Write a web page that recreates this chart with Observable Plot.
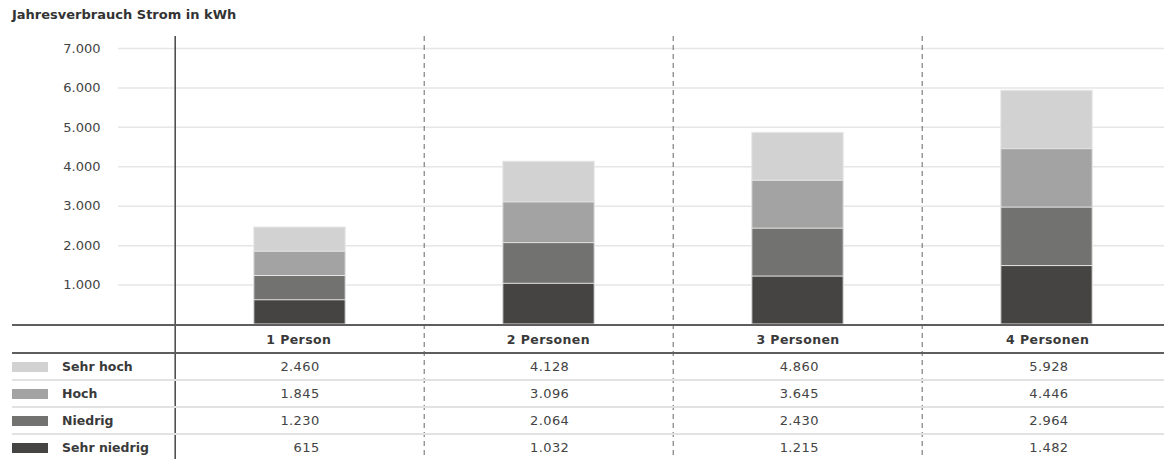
<!DOCTYPE html>
<html>
<head>
<meta charset="utf-8">
<script src="https://cdn.jsdelivr.net/npm/d3@7"></script>
<script src="https://cdn.jsdelivr.net/npm/@observablehq/plot@0.6"></script>
<style>
  html, body { margin: 0; padding: 0; background: #fff; }
  body { width: 1164px; height: 459px; overflow: hidden; position: relative; font-family: "DejaVu Sans", sans-serif; color: #444; }
  #title { position: absolute; left: 12px; top: 6px; font-size: 13px; line-height: 18px; font-weight: bold; color: #333; }
  #chart { position: absolute; left: 0; top: 0; }
  #tbl { position: absolute; left: 12px; top: 324px; }
  .row { display: flex; align-items: center; box-sizing: border-box; height: 27px; border-bottom: 2px solid #e2e2e2; }
  .row.head { height: 30px; border-top: 2px solid #5e5e5e; border-bottom: 2px solid #5e5e5e; }
  .lab { display: flex; align-items: center; box-sizing: border-box; font-weight: bold; font-size: 12.5px; color: #3a3a3a; }
  .sw { width: 36px; height: 10px; margin-right: 14px; }
  .cell { box-sizing: border-box; font-size: 13px; letter-spacing: 0.4px; }
  .head .cell { text-align: center; font-weight: bold; font-size: 12.5px; letter-spacing: 0.4px; color: #3a3a3a; }
  .num { text-align: right; padding-right: 104px; }
</style>
</head>
<body>
<div id="title">Jahresverbrauch Strom in kWh</div>
<div id="chart"></div>
<div id="tbl"></div>
<script>
const persons = ["1 Person", "2 Personen", "3 Personen", "4 Personen"];
const levels = ["Sehr hoch", "Hoch", "Niedrig", "Sehr niedrig"];
const sehrHoch = [2460, 4128, 4860, 5928];
const hoch = [1845, 3096, 3645, 4446];
const niedrig = [1230, 2064, 2430, 2964];
const sehrNiedrig = [615, 1032, 1215, 1482];
const levelColors = ["#d2d2d2", "#a2a3a2", "#727271", "#454443"];
const yTicks = [1000, 2000, 3000, 4000, 5000, 6000, 7000];

const series = [sehrHoch, hoch, niedrig, sehrNiedrig];
const data = levels.flatMap((level, i) => persons.map((person, j) => ({person, level, value: series[i][j]})));

const de = d3.formatLocale({decimal: ",", thousands: ".", grouping: [3], currency: ["", " €"]});
const fmt = de.format(",");

const xRange = [174, 1172.5];
const step = (xRange[1] - xRange[0]) / persons.length;
const barWidth = 92;
const inset = (step - barWidth) / 2;

const chart = Plot.plot({
  width: 1164,
  height: 459,
  marginLeft: 118,
  marginRight: 0,
  marginTop: 36,
  marginBottom: 0,
  style: {fontFamily: "DejaVu Sans, sans-serif", background: "transparent", overflow: "visible"},
  x: {domain: persons, range: xRange, padding: 0, axis: null},
  y: {domain: [0, 7000], range: [324, 48], axis: null},
  color: {domain: levels, range: levelColors},
  marks: [
    Plot.ruleY(yTicks, {stroke: "#e6e6e6", strokeWidth: 1.5}),
    Plot.barY(data, {x: "person", y1: 0, y2: "value", fill: "level", stroke: "#e6e6e6", strokeWidth: 1, insetLeft: inset, insetRight: inset}),
    Plot.axisY(yTicks, {label: null, tickSize: 0, tickPadding: 18, tickFormat: fmt, fontSize: 13, fill: "#444", letterSpacing: "0.4px"}),
    Plot.ruleX(persons.slice(0, 1), {x: d => d, dx: -step / 2, stroke: "#454545", strokeWidth: 1.5}),
    Plot.ruleX(persons.slice(1), {x: d => d, dx: -step / 2, stroke: "#666", strokeWidth: 1, strokeDasharray: "5,4"})
  ]
});
document.getElementById("chart").appendChild(chart);

// Table below the chart, columns aligned with the x scale
const tbl = document.getElementById("tbl");
const firstCol = xRange[0] - 12;
tbl.style.width = (firstCol + step * persons.length) + "px";

function makeRow(cls, labelHtml, cells, cellCls) {
  const row = document.createElement("div");
  row.className = "row " + cls;
  const lab = document.createElement("div");
  lab.className = "lab";
  lab.style.width = firstCol + "px";
  lab.innerHTML = labelHtml;
  row.appendChild(lab);
  cells.forEach(t => {
    const c = document.createElement("div");
    c.className = "cell " + cellCls;
    c.style.width = step + "px";
    c.textContent = t;
    row.appendChild(c);
  });
  tbl.appendChild(row);
}
makeRow("head", "", persons, "");
levels.forEach((level, i) => {
  makeRow("", `<span class="sw" style="background:${levelColors[i]}"></span><span>${level}</span>`, series[i].map(fmt), "num");
});
</script>
</body>
</html>
